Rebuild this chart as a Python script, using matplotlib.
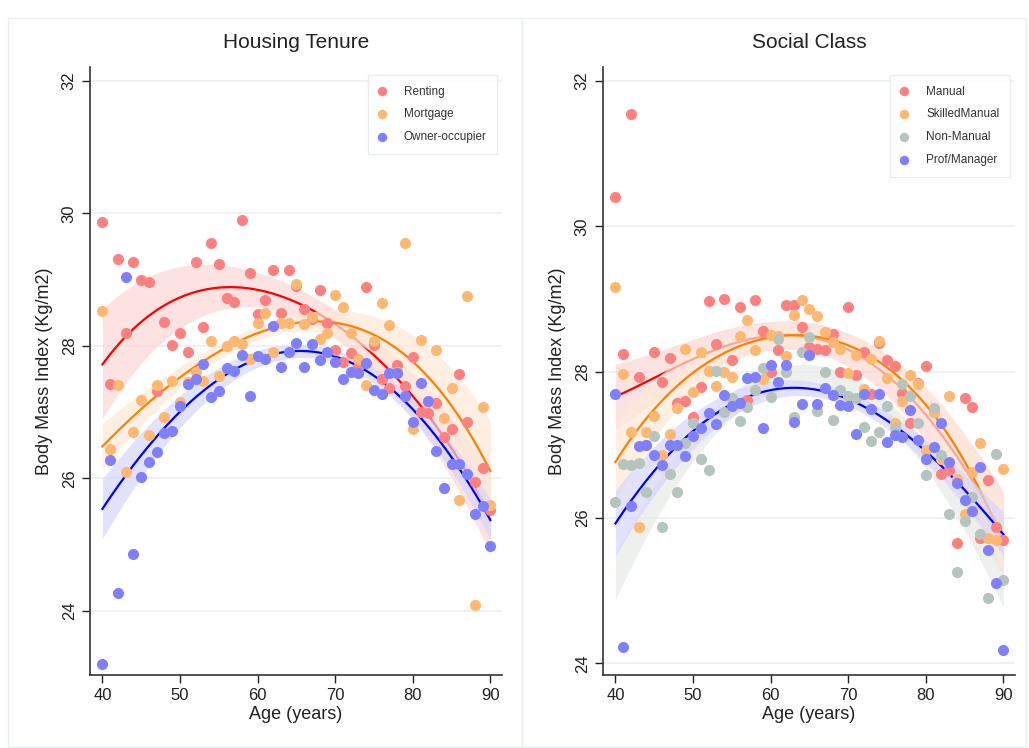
import matplotlib.pyplot as plt
import numpy as np

plt.rcParams['font.family'] = ['Liberation Sans', 'DejaVu Sans']

ages = np.arange(40, 91)

# Housing tenure panel (mean BMI by age)
renting = [29.87, 27.42, 29.31, 28.20, 29.27, 29.00, 28.97, 27.32, 28.36, 28.02,
           28.20, 27.90, 29.26, 28.29, 29.55, 29.24, 28.72, 28.66, 29.90, 29.10,
           28.48, 28.69, 29.15, 28.50, 29.15, 28.90, 28.55, 28.40, 28.84, 28.34,
           27.94, 27.76, 27.89, 27.68, 28.89, 28.02, 27.50, 27.36, 27.71, 27.39,
           27.83, 27.00, 26.98, 27.13, 26.63, 26.75, 27.58, 26.85, 25.95, 26.15,
           25.52]
mortgage = [28.53, 26.44, 27.41, 26.10, 26.70, 27.18, 26.66, 27.41, 26.93, 27.47,
            27.15, 27.45, 27.60, 27.47, 28.07, 27.54, 28.00, 28.07, 28.03, 27.80,
            28.35, 28.50, 27.90, 28.35, 28.34, 28.93, 28.33, 28.43, 28.11, 28.20,
            28.76, 28.58, 28.20, 27.80, 27.41, 28.08, 28.64, 28.31, 27.60, 29.55,
            26.74, 28.09, 27.15, 27.94, 26.91, 27.37, 25.67, 28.75, 24.09, 27.07,
            25.59]
owner = [23.20, 26.27, 24.27, 29.04, 24.86, 26.02, 26.24, 26.40, 26.69, 26.72,
         27.09, 27.43, 27.50, 27.73, 27.22, 27.32, 27.66, 27.62, 27.86, 27.24,
         27.85, 27.80, 28.30, 27.68, 27.90, 28.05, 27.68, 28.03, 27.78, 27.90,
         27.76, 27.50, 27.60, 27.59, 27.74, 27.33, 27.27, 27.59, 27.59, 27.24,
         26.85, 27.44, 27.17, 26.41, 25.86, 26.21, 26.21, 26.06, 25.46, 25.58,
         24.98]

# Social class panel (mean BMI by age)
manual = [30.41, 28.25, 31.55, 27.93, 27.00, 28.27, 27.86, 28.20, 27.57, 27.60,
          27.38, 27.79, 28.98, 28.39, 29.00, 28.17, 28.89, 27.62, 28.99, 28.56,
          28.00, 28.30, 28.92, 28.92, 28.62, 28.35, 28.32, 28.30, 28.53, 28.00,
          28.89, 27.96, 28.27, 27.70, 28.40, 28.16, 28.08, 27.71, 27.30, 27.85,
          28.09, 27.45, 26.60, 26.66, 25.65, 27.65, 27.52, 25.72, 26.52, 25.87,
          25.69]
skilled = [29.17, 27.98, 27.18, 25.87, 27.18, 27.40, 26.86, 27.15, 27.50, 28.32,
           27.72, 28.27, 28.01, 27.81, 28.00, 27.93, 28.50, 28.72, 28.31, 27.90,
           28.51, 28.49, 28.22, 28.79, 28.99, 28.86, 28.77, 28.55, 28.42, 28.32,
           27.99, 28.24, 27.77, 28.18, 28.43, 27.92, 27.30, 27.60, 27.96, 27.84,
           26.93, 27.45, 26.80, 27.67, 26.53, 26.05, 26.63, 27.02, 25.72, 25.70,
           26.67]
nonmanual = [26.21, 26.74, 26.73, 26.75, 26.36, 27.12, 25.87, 26.60, 26.35, 27.02,
             27.30, 26.80, 26.66, 28.01, 27.45, 27.65, 27.33, 27.52, 27.75, 28.05,
             27.66, 28.45, 28.00, 27.38, 28.28, 28.48, 27.46, 28.00, 27.34, 27.75,
             27.67, 27.64, 27.25, 27.06, 27.18, 27.53, 27.23, 27.83, 27.67, 27.30,
             26.58, 27.51, 26.86, 26.05, 25.26, 25.96, 26.29, 25.77, 24.90, 26.88,
             25.15]
profman = [27.70, 24.23, 26.16, 26.98, 27.00, 26.86, 26.73, 27.00, 27.00, 26.85,
           27.12, 27.23, 27.44, 27.29, 27.69, 27.54, 27.57, 27.92, 27.93, 27.23,
           28.10, 27.86, 28.10, 27.32, 27.56, 28.23, 27.56, 27.78, 27.68, 27.55,
           27.53, 27.15, 27.70, 27.49, 27.70, 27.04, 27.14, 27.11, 27.48, 27.07,
           26.81, 26.97, 27.30, 26.77, 26.48, 26.25, 26.09, 26.70, 25.56, 25.10,
           24.19]

# fitted lines and CI half-widths
fit_ages = [40, 45, 50, 55, 60, 65, 70, 75, 80, 85, 90]
fit_renting = [27.72, 28.36, 28.74, 28.86, 28.85, 28.68, 28.31, 27.85, 27.25, 26.45, 25.45]
fit_mortgage = [26.48, 27.05, 27.52, 27.90, 28.20, 28.36, 28.35, 28.15, 27.75, 27.12, 26.10]
fit_owner = [25.55, 26.33, 26.99, 27.52, 27.83, 27.91, 27.80, 27.55, 27.08, 26.30, 25.37]
fit_manual = [27.66, 27.93, 28.17, 28.38, 28.50, 28.50, 28.30, 27.95, 27.40, 26.70, 25.75]
fit_skilled = [26.77, 27.48, 28.00, 28.30, 28.47, 28.54, 28.35, 28.04, 27.55, 26.80, 25.65]
fit_nonmanual = [25.18, 26.19, 26.98, 27.54, 27.87, 27.96, 27.82, 27.46, 26.86, 26.03, 25.05]
fit_profman = [25.93, 26.62, 27.20, 27.58, 27.74, 27.76, 27.65, 27.31, 26.93, 26.38, 25.77]

ci_ages = [40, 65, 90]
ci_renting = [0.83, 0.22, 0.60]
ci_mortgage = [0.35, 0.13, 0.75]
ci_owner = [0.45, 0.10, 0.30]
ci_manual = [0.45, 0.20, 0.60]
ci_skilled = [0.55, 0.12, 0.50]
ci_nonmanual = [0.31, 0.14, 0.28]
ci_profman = [0.45, 0.10, 0.30]

# name, points, fit, ci, marker colour, line colour, band colour
left_series = [
    ("Renting", renting, fit_renting, ci_renting, "#ff8080", "#ff0000", "#fdd6d6"),
    ("Mortgage", mortgage, fit_mortgage, ci_mortgage, "#ffb872", "#ff8000", "#fee9d7"),
    ("Owner-occupier", owner, fit_owner, ci_owner, "#8080ff", "#0000ff", "#d6d6fb"),
]
right_series = [
    ("Manual", manual, fit_manual, ci_manual, "#ff8080", "#ff0000", "#fdd6d6"),
    ("SkilledManual", skilled, fit_skilled, ci_skilled, "#ffb872", "#ff8000", "#fee9d7"),
    ("Non-Manual", nonmanual, fit_nonmanual, ci_nonmanual, "#b5c5bd", None, "#e7ebe8"),
    ("Prof/Manager", profman, fit_profman, ci_profman, "#8080ff", "#0000ff", "#d6d6fb"),
]

fig = plt.figure(figsize=(10.29, 7.48), dpi=100)
ax1 = fig.add_axes([90 / 1029, 73 / 748, 412 / 1029, 608 / 748])
ax2 = fig.add_axes([603 / 1029, 73 / 748, 412 / 1029, 608 / 748])

# faint panel frames
for x0, x1 in [(8, 522), (522, 1026)]:
    fig.patches.append(plt.Rectangle((x0 / 1029, 1 / 748), (x1 - x0) / 1029, 729 / 748,
                                     transform=fig.transFigure, fill=False,
                                     edgecolor="#e9eef0", linewidth=1))


def draw(ax, series, title, ylim):
    xx = np.linspace(40, 90, 200)
    z = 1
    for name, vals, fit, ci, pc, lc, bc in series:
        yy = np.polyval(np.polyfit(fit_ages, fit, 4), xx)
        hw = np.polyval(np.polyfit(ci_ages, ci, 2), xx)
        ax.fill_between(xx, yy - hw, yy + hw, color=bc, alpha=0.7, linewidth=0, zorder=z)
        if lc:
            ax.plot(xx, yy, color=lc, lw=1.6, zorder=z + 1)
        z += 2
    for name, vals, fit, ci, pc, lc, bc in series:
        ax.scatter(ages, vals, s=64, color=pc, linewidths=0, zorder=20, label=name)
    yticks = [24, 26, 28, 30, 32]
    ax.set_xlim(38.4, 91.5)
    ax.set_ylim(*ylim)
    ax.set_xticks([40, 50, 60, 70, 80, 90])
    ax.set_yticks(yticks)
    for t in yticks:
        ax.axhline(t, color="#eaf1f3", lw=1.2, zorder=0)
    ax.set_yticklabels([str(t) for t in yticks], rotation=90, va="center")
    ax.tick_params(axis="both", direction="out", length=6, width=1,
                   labelsize=12, colors="#222222")
    for sp in ["top", "right"]:
        ax.spines[sp].set_visible(False)
    for sp in ["left", "bottom"]:
        ax.spines[sp].set_color("#333333")
        ax.spines[sp].set_linewidth(1.2)
    ax.set_title(title, fontsize=15, color="#222222", pad=14)
    ax.set_xlabel("Age (years)", fontsize=13, color="#222222", labelpad=2)
    ax.set_ylabel("Body Mass Index (Kg/m2)", fontsize=13, color="#222222", labelpad=6)
    leg = ax.legend(loc="upper right", bbox_to_anchor=(0.988, 0.987), borderaxespad=0,
                    fontsize=8.5, frameon=True, fancybox=False, handlelength=0.6,
                    handletextpad=1.55, borderpad=0.9, labelspacing=0.92,
                    markerscale=0.85)
    leg.get_frame().set_edgecolor("#e3eaec")
    leg.get_frame().set_linewidth(1)
    leg.set_zorder(30)
    for t in leg.get_texts():
        t.set_color("#333333")


draw(ax1, left_series, "Housing Tenure", (23.03, 32.21))
draw(ax2, right_series, "Social Class", (23.84, 32.19))

fig.savefig("out.png", dpi=100)
